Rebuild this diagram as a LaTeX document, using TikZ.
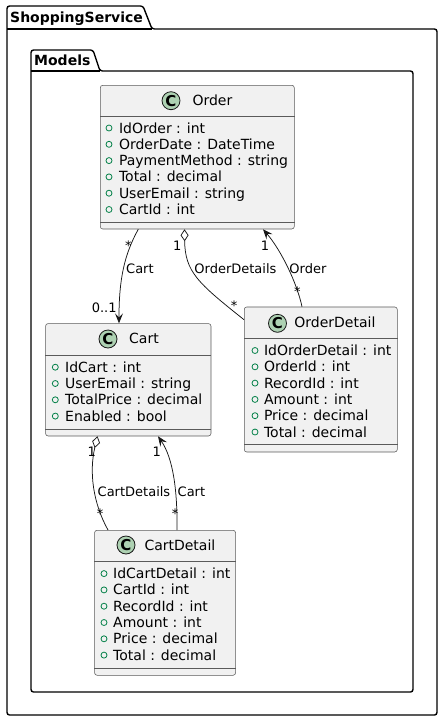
\documentclass[tikz,border=0pt]{standalone}
\usepackage{fontspec}
\setmainfont{DejaVu Sans}
\usetikzlibrary{arrows.meta}
\definecolor{boxfill}{HTML}{F1F1F1}
\definecolor{boxline}{HTML}{181818}
\definecolor{boxedge}{HTML}{5A5A5A}
\definecolor{badge}{HTML}{ADD1B2}
\definecolor{vis}{HTML}{038048}
\tikzset{
  pkg/.style={draw=black, line width=1.4pt, rounded corners=2.5pt},
  classbox/.style={draw=boxedge, fill=boxfill, line width=0.55pt, rounded corners=2.5pt, inner sep=0pt, anchor=north west},
  sepline/.style={draw=boxedge, line width=0.55pt},
  badgec/.style={circle, draw=boxline, fill=badge, line width=0.8pt, minimum size=18pt, inner sep=0pt, font=\fontsize{15}{15}\bfseries\selectfont},
  cname/.style={anchor=base west, inner sep=0pt, font=\fontsize{14}{16}\selectfont},
  attr/.style={anchor=base west, inner sep=0pt, font=\fontsize{14}{16}\selectfont},
  visdot/.style={circle, draw=vis, line width=0.8pt, minimum size=6pt, inner sep=0pt},
  link/.style={draw=boxline, line width=0.75pt},
  lbl/.style={anchor=base west, inner sep=0pt, font=\fontsize{13}{15}\selectfont},
  card/.style={anchor=base, inner sep=0pt, font=\fontsize{13}{15}\selectfont},
  pkgname/.style={anchor=base west, inner sep=0pt, font=\fontsize{14}{16}\bfseries\selectfont},
  arr/.style={-{Stealth[length=10pt,width=8pt,inset=4pt]}},
  agg/.style={{Diamond[length=12pt,width=8pt,fill=white]}-},
}
\begin{document}
\begin{tikzpicture}[x=1pt,y=-1pt]
\useasboundingbox (0,0) rectangle (443,721);
\fill[white] (0,0) rectangle (443,721);

% packages
\draw[pkg] (7,29) -- (7,715) -- (437,715) -- (437,29) -- (152,29) -- (143,6) -- (7,6) -- cycle;
\draw[pkg] (7,29) -- (152,29);
\node[pkgname] (pkgShop) at (10,22.3) {ShoppingService};
\draw[pkg] (31,71) -- (31,692) -- (413,692) -- (413,71) -- (100,71) -- (93,50) -- (31,50) -- cycle;
\draw[pkg] (31,71) -- (100,71);
\node[pkgname] (pkgModels) at (34,65.3) {Models};

% Order
\node[classbox, minimum width=194pt, minimum height=143.7pt] (Order) at (100,85) {};
\draw[sepline] ([yshift=-31pt]Order.north west) -- ([yshift=-31pt]Order.north east);
\draw[sepline] ([yshift=7.4pt]Order.south west) -- ([yshift=7.4pt]Order.south east);
\node[badgec] (OrderC) at (171,100.7) {C};
\node[cname] (OrderN) at (192.3,105.3) {Order};
\foreach \t [count=\i] in {IdOrder : int, OrderDate : DateTime, PaymentMethod : string, Total : decimal, UserEmail : string, CartId : int}{
  \pgfmathsetmacro{\yy}{133+(\i-1)*16.3}
  \node[visdot] (Order-v\i) at (109,\yy-5) {};
  \node[attr] (Order-a\i) at (118.8,\yy) {\t};
}

% Cart
\node[classbox, minimum width=165.4pt, minimum height=112.4pt] (Cart) at (45.3,323.3) {};
\draw[sepline] ([yshift=-31.7pt]Cart.north west) -- ([yshift=-31.7pt]Cart.north east);
\draw[sepline] ([yshift=7.4pt]Cart.south west) -- ([yshift=7.4pt]Cart.south east);
\node[badgec] (CartC) at (108,339) {C};
\node[cname] (CartN) at (129,343.6) {Cart};
\foreach \t [count=\i] in {IdCart : int, UserEmail : string, TotalPrice : decimal, Enabled : bool}{
  \pgfmathsetmacro{\yy}{372.2+(\i-1)*16.3}
  \node[visdot] (Cart-v\i) at (55.3,\yy-5) {};
  \node[attr] (Cart-a\i) at (65,\yy) {\t};
}

% OrderDetail
\node[classbox, minimum width=153pt, minimum height=145pt] (OrderDetail) at (244,306.7) {};
\draw[sepline] ([yshift=-31.6pt]OrderDetail.north west) -- ([yshift=-31.6pt]OrderDetail.north east);
\draw[sepline] ([yshift=7.7pt]OrderDetail.south west) -- ([yshift=7.7pt]OrderDetail.south east);
\node[badgec] (OrderDetailC) at (277.5,323.3) {C};
\node[cname] (OrderDetailN) at (294.2,327) {OrderDetail};
\foreach \t [count=\i] in {IdOrderDetail : int, OrderId : int, RecordId : int, Amount : int, Price : decimal, Total : decimal}{
  \pgfmathsetmacro{\yy}{355.5+(\i-1)*16.3}
  \node[visdot] (OrderDetail-v\i) at (255,\yy-5) {};
  \node[attr] (OrderDetail-a\i) at (263.8,\yy) {\t};
}

% CartDetail
\node[classbox, minimum width=141pt, minimum height=145pt] (CartDetail) at (94.3,530) {};
\draw[sepline] ([yshift=-31.7pt]CartDetail.north west) -- ([yshift=-31.7pt]CartDetail.north east);
\draw[sepline] ([yshift=7.7pt]CartDetail.south west) -- ([yshift=7.7pt]CartDetail.south east);
\node[badgec] (CartDetailC) at (126,545) {C};
\node[cname] (CartDetailN) at (144.3,550.3) {CartDetail};
\foreach \t [count=\i] in {IdCartDetail : int, CartId : int, RecordId : int, Amount : int, Price : decimal, Total : decimal}{
  \pgfmathsetmacro{\yy}{578.6+(\i-1)*16.3}
  \node[visdot] (CartDetail-v\i) at (104,\yy-5) {};
  \node[attr] (CartDetail-a\i) at (113,\yy) {\t};
}

% connectors
\draw[link, arr] ([xshift=38.3pt]Order.south west) .. controls (124,255) and (119,280) .. ([xshift=73.7pt]Cart.north west);
\draw[link, agg] ([xshift=84.5pt]Order.south west) .. controls (185,272) and (198,283) .. ([yshift=-13pt]OrderDetail.north west);
\draw[link, arr] ([xshift=58pt]OrderDetail.north west) .. controls (297,283) and (281,250) .. ([xshift=163pt]Order.south west);
\draw[link, agg] ([xshift=52.2pt]Cart.south west) .. controls (89,472) and (93,503) .. ([xshift=13.7pt]CartDetail.north west);
\draw[link, arr] ([xshift=82.7pt]CartDetail.north west) .. controls (177.5,490) and (173,458) .. ([xshift=112.7pt]Cart.south west);

% labels
\node[lbl] (l1) at (126,273) {Cart};
\node[lbl] (l2) at (194.2,273) {OrderDetails};
\node[lbl] (l3) at (289.2,273) {Order};
\node[lbl] (l4) at (97.5,496.4) {CartDetails};
\node[lbl] (l5) at (177.5,496.4) {Cart};

\node[card] (c1) at (128.3,250.7) {*};
\node[card] (c2) at (104.2,312) {0..1};
\node[card] (c3) at (177.3,250.4) {1};
\node[card] (c4) at (234,310.7) {*};
\node[card] (c5) at (265,250.4) {1};
\node[card] (c6) at (297.3,296.6) {*};
\node[card] (c7) at (91.7,456.4) {1};
\node[card] (c8) at (100,518.4) {*};
\node[card] (c9) at (156.7,456.4) {1};
\node[card] (c10) at (175,518.4) {*};
\end{tikzpicture}
\end{document}
